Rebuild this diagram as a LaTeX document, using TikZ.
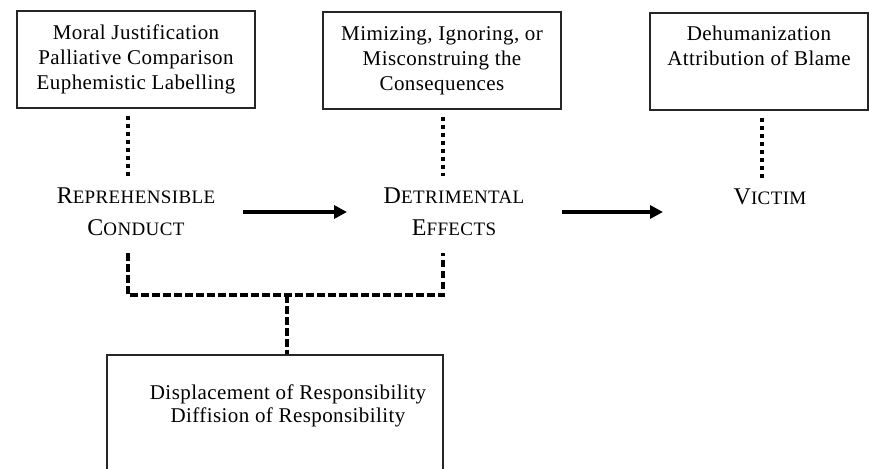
\documentclass[tikz,border=0pt]{standalone}
\usepackage{fontspec}
\setmainfont{Liberation Serif}[LetterSpace=2]
\usetikzlibrary{arrows.meta}
\newcommand\smc[2]{{\fontsize{24}{32}\selectfont #1}{\fontsize{19}{32}\selectfont #2}}
\tikzset{
  box/.style={draw=black!85, line width=1.5pt, inner sep=0pt},
  boxtext/.style={align=center, inner sep=0pt, font=\fontsize{21}{25}\selectfont},
  dotline/.style={line width=3.2pt, dash pattern=on 4.5pt off 3.5pt},
  dashline/.style={line width=3.2pt, dash pattern=on 7.5pt off 3.5pt},
  arr/.style={line width=3.5pt, -{Triangle[length=13pt,width=13pt]}},
  stage/.style={align=center, inner sep=0pt, font=\fontsize{24}{32}\selectfont}
}
\begin{document}
\begin{tikzpicture}[x=1pt,y=-1pt]
\useasboundingbox (0,0) rectangle (869,468);
\clip (0,0) rectangle (869,468);
% boxes
\node[box, boxtext, minimum width=238pt, minimum height=97pt] (b1) at (136,59.5)
  {Moral Justification\\Palliative Comparison\\Euphemistic Labelling};
\node[box, boxtext, minimum width=238pt, minimum height=97pt] (b2) at (442,60.5)
  {Mimizing, Ignoring, or\\Misconstruing the\\Consequences};
\node[box, boxtext, minimum width=218pt, minimum height=97pt] (b3) at (759,61.5)
  {Dehumanization\\Attribution of Blame\\\strut};
\node[box, minimum width=336pt, minimum height=200pt] (b4) at (275,455) {};
\node[boxtext, font=\fontsize{21}{22.5}\selectfont] (t4) at (288,406)
  {Displacement of Responsibility\\Diffision of Responsibility};
% stage labels
\node[stage] (rc) at (136,212) {\smc{R}{EPREHENSIBLE}\\\smc{C}{ONDUCT}};
\node[stage] (de) at (454,212) {\smc{D}{ETRIMENTAL}\\\smc{E}{FFECTS}};
\node[stage] (vi) at (770,197) {\smc{V}{ICTIM}};
% dotted links from boxes
\coordinate (rcTop) at (128,177);
\coordinate (deTop) at (443,176);
\coordinate (viTop) at (762,178);
\draw[dotline] ([xshift=-8pt,yshift=-7pt]b1.south) -- (rcTop);
\draw[dotline] ([xshift=1pt,yshift=-7pt]b2.south) -- (deTop);
\draw[dotline] ([xshift=3pt,yshift=-7pt]b3.south) -- (viTop);
% dashed bracket
\coordinate (rcBot) at (128,253);
\coordinate (deBot) at (443,253);
\coordinate (jn) at (287,295);
\draw[dashline] (rcBot) -- (rcBot |- jn) -- (deBot |- jn) -- (deBot);
\draw[dashline] (jn) -- (jn |- b4.north);
% arrows
\draw[arr] ([xshift=107pt]rc.center) -- ([xshift=-107pt]de.center);
\draw[arr] ([xshift=108pt]de.center) -- ([xshift=209pt]de.center);
\end{tikzpicture}
\end{document}
